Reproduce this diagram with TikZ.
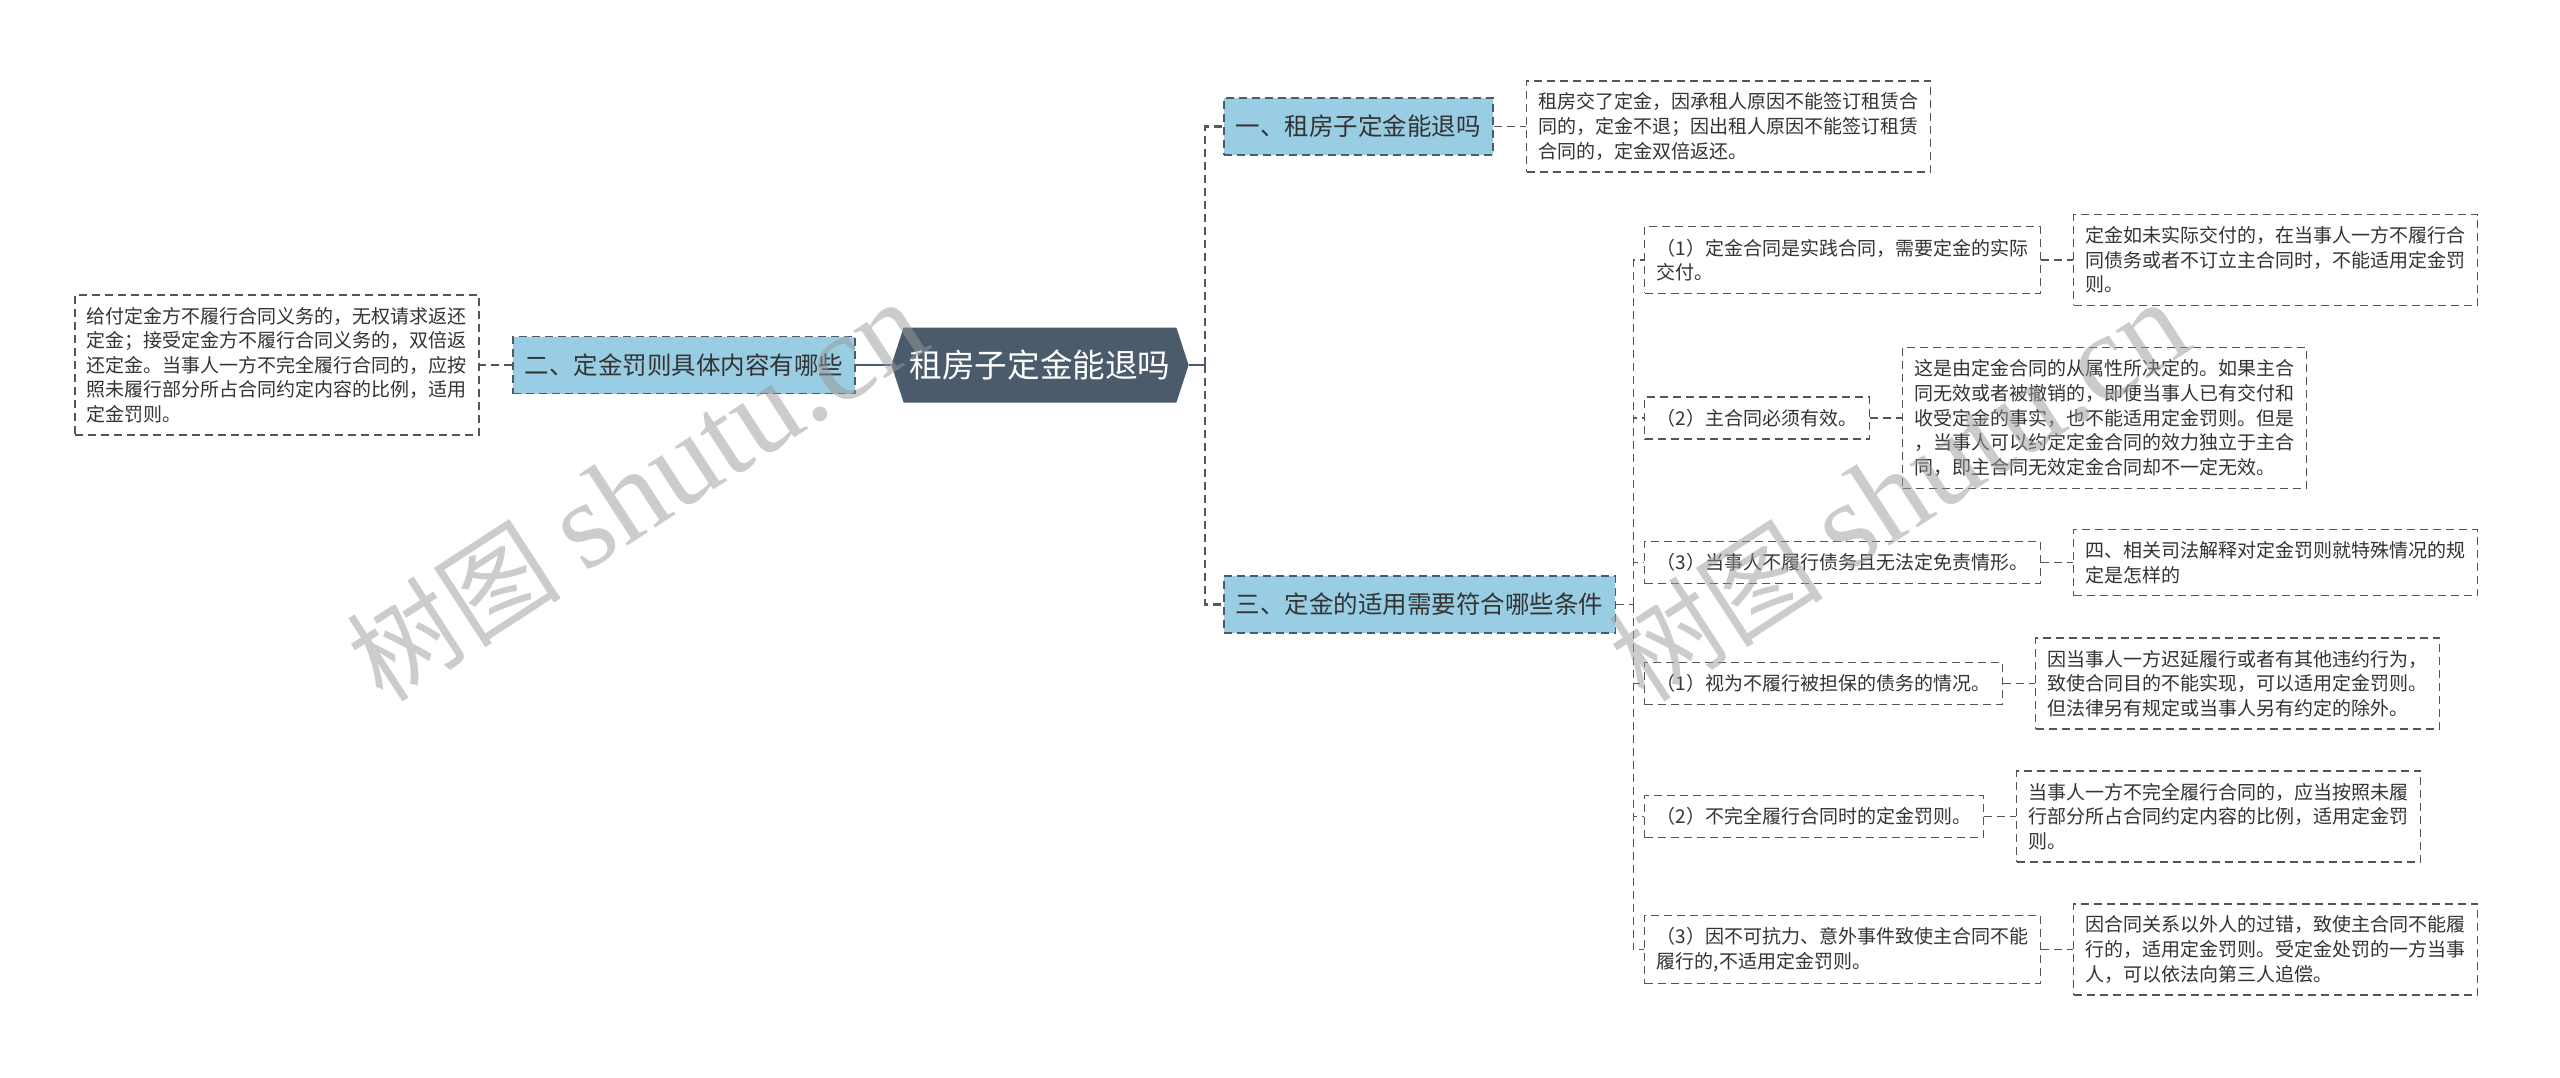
\documentclass[tikz,border=0pt]{standalone}
\usepackage{fontspec}
\usepackage{tikz}
\usetikzlibrary{positioning,shapes.symbols}
\newfontfamily\cjk{Noto Sans CJK SC}
\newfontfamily\wmlatin{Liberation Serif}
\definecolor{MapSlate}{HTML}{4B5B6B}
\definecolor{MapSky}{HTML}{98CDE3}
\definecolor{MapInk}{HTML}{333333}
\definecolor{MapLine}{HTML}{555555}

\begin{document}
\begin{tikzpicture}[
  x=0.5pt, y=-0.5pt,
  rootnode/.style={signal, signal to=east and west, signal pointer angle=144,
    fill=MapSlate, text=white, font=\cjk\fontsize{16.3pt}{20pt}\selectfont,
    minimum height=37.5pt, inner xsep=3pt, inner ysep=0pt},
  topic/.style={draw=MapSlate, dash pattern=on 4pt off 2.5pt, line width=0.9pt,
    fill=MapSky, text=MapInk, font=\cjk\fontsize{12.25pt}{15pt}\selectfont,
    minimum height=28.5pt, inner xsep=6pt},
  item/.style={draw=MapLine, dash pattern=on 4pt off 2.5pt, line width=0.7pt,
    fill=white, text=MapInk, align=left, font=\cjk\fontsize{9.5pt}{12.3pt}\selectfont,
    inner xsep=6pt, inner ysep=6pt},
  trunk/.style={MapSlate, line width=1.2pt},
  branch/.style={MapSlate, line width=1.2pt, dash pattern=on 4pt off 2.5pt},
  twig/.style={MapLine, line width=0.7pt, dash pattern=on 4pt off 2.5pt},
  watermark/.style={inner sep=0pt, anchor=base west, rotate=33, text=black!40, text opacity=0.5},
  node distance=16pt
]
  \useasboundingbox (0,0) rectangle (2560,1077);

  \node[rootnode] (root) at (1040,365) {租房子定金能退吗};
  \node[topic, right=17pt of root, yshift=119.25pt] (one) {一、租房子定金能退吗};
  \node[topic, left=17.5pt of root] (two) {二、定金罚则具体内容有哪些};
  \node[topic, right=17pt of root, yshift=-119.75pt] (three) {三、定金的适用需要符合哪些条件};

  \node[item, right=of one] (onenote) {租房交了定金，因承租人原因不能签订租赁合\\同的，定金不退；因出租人原因不能签订租赁\\合同的，定金双倍返还。};
  \node[item, left=of two] (twonote) {给付定金方不履行合同义务的，无权请求返还\\定金；接受定金方不履行合同义务的，双倍返\\还定金。当事人一方不完全履行合同的，应按\\照未履行部分所占合同约定内容的比例，适用\\定金罚则。};

  % conditions
  \node[item, anchor=west] (c1) at (1644,260) {（1）定金合同是实践合同，需要定金的实际\\交付。};
  \node[item, anchor=west] (c2) at (1644,418) {（2）主合同必须有效。};
  \node[item, anchor=west] (c3) at (1644,562.5) {（3）当事人不履行债务且无法定免责情形。};
  \node[item, anchor=west] (c4) at (1644,683.5) {（1）视为不履行被担保的债务的情况。};
  \node[item, anchor=west] (c5) at (1644,816.5) {（2）不完全履行合同时的定金罚则。};
  \node[item, anchor=west] (c6) at (1644,949.5) {（3）因不可抗力、意外事件致使主合同不能\\履行的,不适用定金罚则。};

  \node[item, right=of c1] (c1note) {定金如未实际交付的，在当事人一方不履行合\\同债务或者不订立主合同时，不能适用定金罚\\则。};
  \node[item, right=of c2] (c2note) {这是由定金合同的从属性所决定的。如果主合\\同无效或者被撤销的，即便当事人已有交付和\\收受定金的事实，也不能适用定金罚则。但是\\，当事人可以约定定金合同的效力独立于主合\\同，即主合同无效定金合同却不一定无效。};
  \node[item, right=of c3] (c3note) {四、相关司法解释对定金罚则就特殊情况的规\\定是怎样的};
  \node[item, right=of c4] (c4note) {因当事人一方迟延履行或者有其他违约行为，\\致使合同目的不能实现，可以适用定金罚则。\\但法律另有规定或当事人另有约定的除外。};
  \node[item, right=of c5] (c5note) {当事人一方不完全履行合同的，应当按照未履\\行部分所占合同约定内容的比例，适用定金罚\\则。};
  \node[item, right=of c6] (c6note) {因合同关系以外人的过错，致使主合同不能履\\行的，适用定金罚则。受定金处罚的一方当事\\人，可以依法向第三人追偿。};

  % links
  \coordinate[right=8pt of root.east] (rootfork);
  \draw[trunk] (root.east) -- (rootfork);
  \draw[branch] (rootfork) |- (one.west);
  \draw[branch] (rootfork) |- (three.west);
  \draw[trunk] (root.west) -- (two.east);
  \draw[twig] (one.east) -- (onenote.west);
  \draw[twig] (two.west) -- (twonote.east);
  \coordinate[right=8.5pt of three.east] (threefork);
  \draw[twig] (three.east) -- (threefork);
  \foreach \c in {c1,c2,c3,c4,c5,c6} {
    \draw[twig] (threefork) |- (\c.west);
    \draw[twig] (\c.east) -- (\c note.west);
  }

  \node[watermark] (wmleft) at (383,705) {\cjk\fontsize{54pt}{60pt}\selectfont 树图 {\wmlatin\fontsize{62pt}{66pt}\selectfont shutu.cn}};
  \node[watermark] (wmright) at (1645,705) {\cjk\fontsize{54pt}{60pt}\selectfont 树图 {\wmlatin\fontsize{62pt}{66pt}\selectfont shutu.cn}};
\end{tikzpicture}
\end{document}
